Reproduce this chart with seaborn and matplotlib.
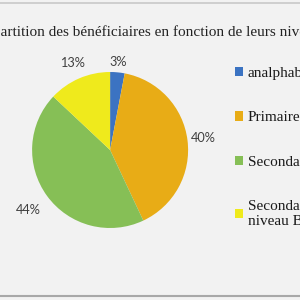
import matplotlib
matplotlib.use("Agg")
import numpy as np
import matplotlib.pyplot as plt
import seaborn as sns
from matplotlib.lines import Line2D

categories = ["analphabètes", "Primaire", "Secondaire", "Secondaire\nniveau Bac"]
values = [3, 40, 44, 13]
colors = ["#3b73c2", "#e8ac16", "#86bf56", "#efea1c"]
title = "Répartition des bénéficiaires en fonction de leurs niveaux d'instruction"

sns.set_theme(style="white")
bg = "#f2f2f2"

fig = plt.figure(figsize=(3, 3), dpi=100, facecolor=bg)
ax = fig.add_axes([0.107, 0.24, 0.52, 0.52])
ax.set_facecolor(bg)

labels = [f"{v}%" for v in values]
wedges, texts = ax.pie(values, colors=colors, startangle=90, counterclock=False,
                       labels=labels, labeldistance=1.2,
                       wedgeprops=dict(linewidth=0),
                       textprops=dict(fontsize=9.2, color="#404040", family="Lato"))
# nudge each label along its wedge's mid-angle
dist = [1.13, 1.2, 1.3, 1.22]
for w, t, d in zip(wedges, texts, dist):
    ang = np.deg2rad((w.theta1 + w.theta2) / 2)
    t.set_position((d * np.cos(ang), d * np.sin(ang)))
    t.set_ha("center")
    t.set_va("center")
ax.set_xlim(-1, 1)
ax.set_ylim(-1, 1)
ax.set_aspect("equal")

fig.text(-0.081, 0.893, title, ha="left", va="center", fontsize=11,
         family="Liberation Serif", color="#222222")

leg = fig.legend(wedges, categories, loc="upper left", bbox_to_anchor=(0.737, 0.822),
                 frameon=False, handlelength=0.55, handleheight=0.55, handletextpad=0.3,
                 labelspacing=2.05, prop=dict(family="Liberation Serif", size=11))
for t in leg.get_texts():
    t.set_color("#1a1a1a")

fig.add_artist(Line2D([0, 1], [0.99, 0.99], color="#c8c8c8", lw=1.2))
fig.add_artist(Line2D([0, 1], [0.013, 0.013], color="#a8a8a8", lw=1.5))

fig.savefig("out.png", dpi=100, facecolor=bg)
